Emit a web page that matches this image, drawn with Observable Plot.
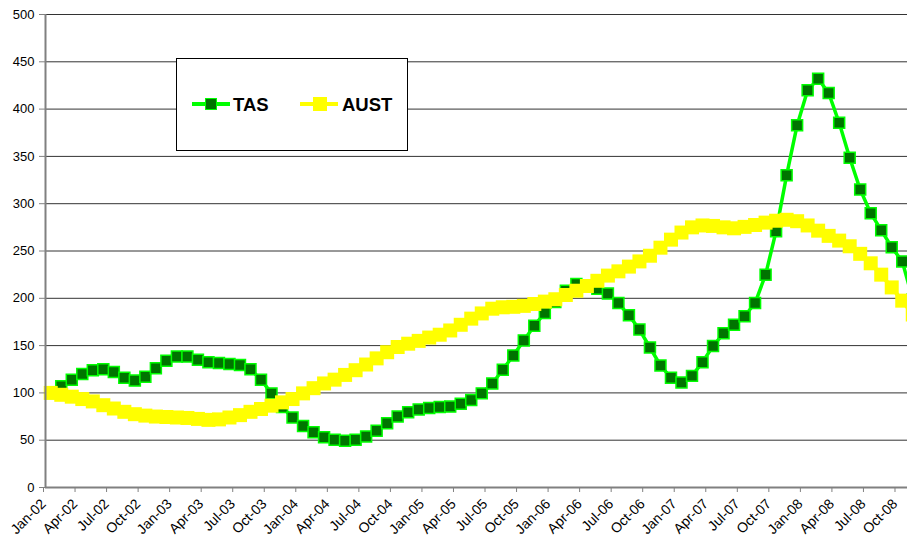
<!DOCTYPE html>
<html>
<head>
<meta charset="utf-8">
<script src="https://cdn.jsdelivr.net/npm/d3@7"></script>
<script src="https://cdn.jsdelivr.net/npm/@observablehq/plot@0.6"></script>
<style>
  body { margin: 0; background: #fff; }
  #wrap { position: relative; width: 907px; height: 544px; overflow: hidden; font-family: "Liberation Sans", Arial, sans-serif; }
  #legend { position: absolute; left: 176px; top: 58px; width: 232px; height: 93px; border: 1px solid #000; background: #fff; box-sizing: border-box; }
  .sw-line { position: absolute; height: 4px; }
  .sw-sq { position: absolute; box-sizing: border-box; }
  .lab { position: absolute; font-weight: bold; font-size: 18.5px; line-height: 18.5px; color: #000; white-space: nowrap; }
</style>
</head>
<body>
<div id="wrap">
  <div id="chart"></div>
  <div id="legend"></div>
</div>
<script>
// Monthly index values, Jan-02 onwards (index 0 = Jan-02)
const tas = [100, 107, 114, 120, 124, 125, 122, 116, 113, 117, 126, 134,
  138.5, 138.5, 135, 132.5, 131.5, 130.5, 129.5, 125, 114, 99.5, 85, 74,
  65, 58.5, 53, 50.5, 49.5, 50.5, 54, 60, 68, 75, 79.5, 82.5,
  84, 85, 85.5, 88.5, 92.5, 99.5, 110, 124.5, 139.5, 155.5, 171, 184.5,
  196, 208, 215, 213, 210, 205, 195, 182, 167, 148, 129, 116,
  111, 118, 132.5, 149.5, 163, 172, 181, 195, 225, 271, 330, 383,
  420, 432, 417, 385.5, 348.5, 315, 290, 272, 254, 239, 199];
const aust = [100, 98, 96, 93.5, 91, 87, 83.5, 80, 77.5, 76, 75, 74.5,
  74, 73.5, 72.5, 71.5, 72, 74, 76.5, 80, 83, 86.5, 90, 93.5,
  99.5, 105, 110, 114, 119, 124, 130, 136.5, 143, 148.5, 152, 155,
  158.5, 161.5, 166, 172, 178.5, 184, 189, 190.5, 191, 192, 194, 196.5,
  199, 203.5, 208, 213, 218.5, 224, 228.5, 233.5, 239, 245, 253.5, 262,
  269.5, 275, 277, 276.5, 275, 274, 275.5, 277.5, 280, 282, 283, 281.5,
  277, 271.5, 266, 261, 255, 247, 237, 225, 211.5, 197.5, 183];
const seriesNames = ["TAS", "AUST"];
const xTickLabels = ["Jan-02", "Apr-02", "Jul-02", "Oct-02", "Jan-03", "Apr-03", "Jul-03", "Oct-03",
  "Jan-04", "Apr-04", "Jul-04", "Oct-04", "Jan-05", "Apr-05", "Jul-05", "Oct-05",
  "Jan-06", "Apr-06", "Jul-06", "Oct-06", "Jan-07", "Apr-07", "Jul-07", "Oct-07",
  "Jan-08", "Apr-08", "Jul-08", "Oct-08"];
const yTicks = [0, 50, 100, 150, 200, 250, 300, 350, 400, 450, 500];

const tasData = tas.map((v, i) => ({ m: i + 0.5, value: v }));
const austData = aust.map((v, i) => ({ m: i + 0.5, value: v }));
const xTicks = xTickLabels.map((_, k) => k * 3);

const chart = Plot.plot({
  width: 907,
  height: 544,
  marginLeft: 45,
  marginRight: 0,
  marginTop: 14,
  marginBottom: 57,
  style: { fontFamily: "Liberation Sans, Arial, sans-serif", fontSize: "13px", color: "#000", background: "#fff" },
  x: { domain: [0, 82] },
  y: { domain: [0, 500] },
  marks: [
    Plot.ruleY(yTicks.filter(d => d > 0), { stroke: "#333", strokeWidth: 1 }),
    Plot.lineY(tasData, { x: "m", y: "value", stroke: "#00ff00", strokeWidth: 3.5 }),
    Plot.dot(tasData, { x: "m", y: "value", symbol: "square", r: 6.2, fill: "#007400", stroke: "#00ff00", strokeWidth: 1.5 }),
    Plot.lineY(austData, { x: "m", y: "value", stroke: "#ffff00", strokeWidth: 4 }),
    Plot.dot(austData, { x: "m", y: "value", symbol: "square", r: 7.9, fill: "#ffff00" }),
    Plot.ruleX([0], { stroke: "#808080", strokeWidth: 2 }),
    Plot.ruleY([0], { stroke: "#808080", strokeWidth: 2 }),
    Plot.axisY({ ticks: yTicks, tickSize: 6, tickPadding: 5, fontSize: 13, stroke: "#808080", fill: "#000", label: null }),
    Plot.axisX({ ticks: xTicks, tickFormat: d => xTickLabels[Math.round(d / 3)], tickRotate: -45, tickSize: 5, tickPadding: 9, dx: -2, fontSize: 14, stroke: "#808080", fill: "#000", label: null })
  ]
});
document.getElementById("chart").appendChild(chart);

// Legend (inside plot area, as in reference)
const legend = document.getElementById("legend");
const entries = [
  { name: seriesNames[0], line: "#00ff00", fill: "#007400", border: "#00ff00", size: 12, lineLeft: 15, sqLeft: 28, textLeft: 56 },
  { name: seriesNames[1], line: "#ffff00", fill: "#ffff00", border: "#ffff00", size: 14, lineLeft: 123, sqLeft: 136, textLeft: 165 }
];
entries.forEach(e => {
  const ln = document.createElement("div");
  ln.className = "sw-line";
  ln.style.left = e.lineLeft + "px"; ln.style.top = "43px"; ln.style.width = "38px"; ln.style.background = e.line;
  legend.appendChild(ln);
  const sq = document.createElement("div");
  sq.className = "sw-sq";
  sq.style.left = e.sqLeft + "px"; sq.style.top = (45 - e.size / 2) + "px";
  sq.style.width = e.size + "px"; sq.style.height = e.size + "px";
  sq.style.background = e.fill; sq.style.border = "1.5px solid " + e.border;
  legend.appendChild(sq);
  const t = document.createElement("div");
  t.className = "lab";
  t.style.left = e.textLeft + "px"; t.style.top = "37px";
  t.textContent = e.name;
  legend.appendChild(t);
});
</script>
</body>
</html>
